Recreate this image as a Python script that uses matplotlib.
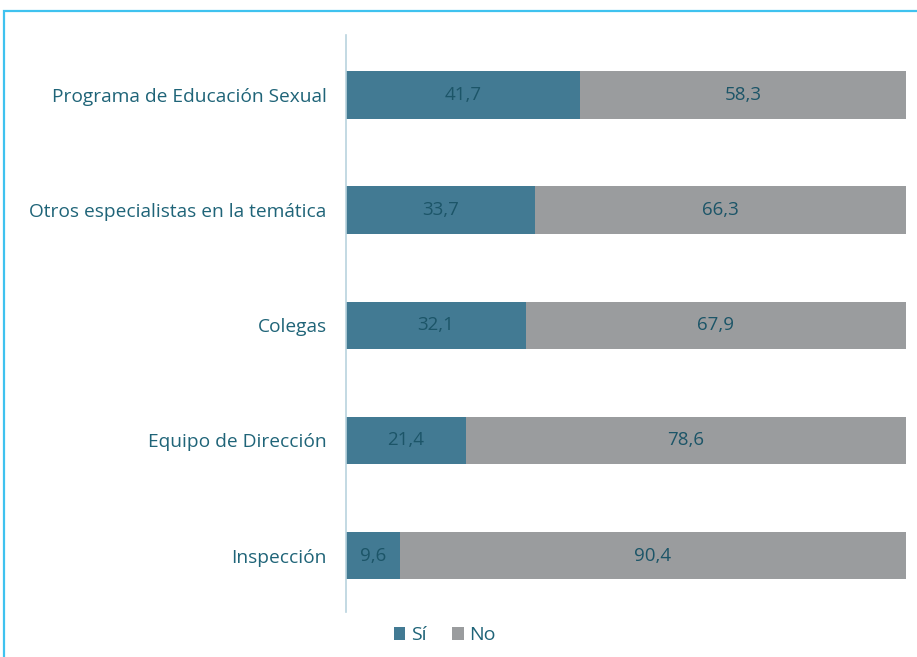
import matplotlib.pyplot as plt
from matplotlib.patches import Rectangle

categories = ['Programa de Educación Sexual', 'Otros especialistas en la temática',
              'Colegas', 'Equipo de Dirección', 'Inspección']
si = [41.7, 33.7, 32.1, 21.4, 9.6]
no = [58.3, 66.3, 67.9, 78.6, 90.4]

col_si = '#427a93'
col_no = '#9a9c9e'
txt = '#1f6478'
val_txt = '#1c5568'

plt.rcParams['font.family'] = ['Open Sans', 'DejaVu Sans']

fig = plt.figure(figsize=(9.17, 6.57), dpi=100)
ax = fig.add_axes([0.3773, 0.0685, 0.6107, 0.8782])

ypos = list(range(len(categories)))
b1 = ax.barh(ypos, si, height=0.41, color=col_si, label='Sí')
b2 = ax.barh(ypos, no, left=si, height=0.41, color=col_no, label='No')

for i in ypos:
    ax.text(si[i] / 2, i, f'{si[i]:.1f}'.replace('.', ','), ha='center', va='center',
            fontsize=13.5, color=val_txt)
    ax.text(si[i] + no[i] / 2, i, f'{no[i]:.1f}'.replace('.', ','), ha='center', va='center',
            fontsize=13.5, color=val_txt)

ax.set_xlim(0, 100)
ax.set_ylim(4.49, -0.52)
ax.set_yticks(ypos)
ax.set_yticklabels(categories, fontsize=13.8, color=txt)
ax.tick_params(axis='y', length=0, pad=14)
ax.set_xticks([])
for s in ['top', 'right', 'bottom']:
    ax.spines[s].set_visible(False)
ax.spines['left'].set_color('#b9d3de')
ax.spines['left'].set_linewidth(1.2)

fig.legend(handles=[b1, b2], loc='center', bbox_to_anchor=(0.485, 0.033), ncol=2,
           frameon=False, fontsize=14, handlelength=0.6, handleheight=0.6,
           handletextpad=0.3, columnspacing=1.3, labelcolor=txt)

fig.patches.append(Rectangle((4 / 917, -0.1), 1.1, (657 - 11) / 657 + 0.1,
                             transform=fig.transFigure, fill=False,
                             edgecolor='#3fc2ef', linewidth=1.6))

fig.savefig('out.png', dpi=100)
